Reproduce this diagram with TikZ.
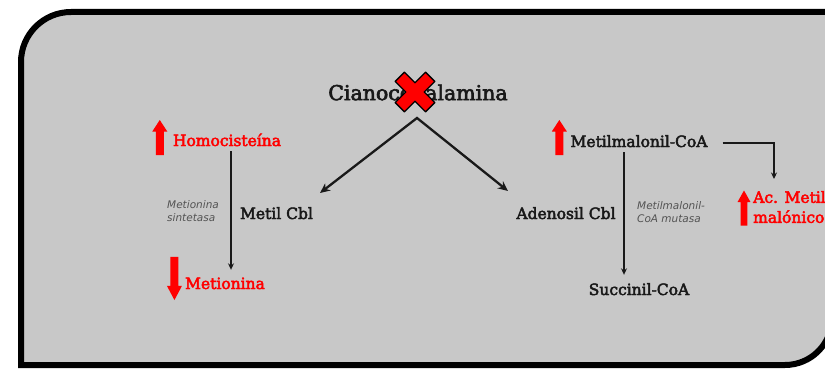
\documentclass[tikz,border=0pt]{standalone}
\usepackage{fontspec}
\setmainfont{DejaVu Serif}
\setsansfont{DejaVu Sans}
\newfontfamily\slab{DejaVu Serif}[FakeBold=3]
\usepackage{tikz}
\usetikzlibrary{positioning,arrows.meta}
\definecolor{panel}{RGB}{200,200,200}
\definecolor{ink}{RGB}{25,25,25}
\tikzset{
  redup/.pic={\fill[red] (-4,-17.5) -- (-4,6) -- (-7.5,6) -- (0,17.5) -- (7.5,6) -- (4,6) -- (4,-17.5) -- cycle;}
}

\begin{document}
\begin{tikzpicture}[x=1pt,y=1pt,on grid,
      metab/.style={font=\fontsize{15.5}{19}\selectfont\slab,text=ink,inner sep=2pt,text height=11pt,text depth=3pt},
      high/.style={metab,text=red},
      enzyme/.style={font=\fontsize{10.5}{13}\selectfont\sffamily\itshape,text=ink!75,align=left,inner sep=0pt,anchor=west},
      big arrow/.style={{Stealth[length=10pt,width=9pt]}-{Stealth[length=10pt,width=9pt]},line width=2.3pt,draw=ink,line join=miter},
      small arrow/.style={-{Stealth[length=6.5pt,width=6pt]},line width=1.4pt,draw=ink},
      xmark/.style={fill=red,draw=black,line width=1.3pt,line join=round}]
      \useasboundingbox (0,0) rectangle (825,-369);
      \draw[line width=6pt,fill=panel] (21,-365) -- (21,-62) arc[start angle=180,end angle=90,radius=50pt]
        -- (832,-12) -- (832,-318) arc[start angle=0,end angle=-90,radius=47pt] -- cycle;

      \node[font=\fontsize{20.5}{24}\selectfont\slab,text=ink,inner sep=2pt] (cyano) at (418,-92.5) {Cianocobalamina};
      \node[metab] (metil) [below left=122.5pt and 141.5pt of cyano] {Metil Cbl};
      \node[metab] (adeno) [below right=122.5pt and 148pt of cyano] {Adenosil Cbl};
      \node[high] (homo) [below left=49.5pt and 191pt of cyano] {Homocisteína};
      \node[high] (meti) [below left=143pt and 2pt of homo] {Metionina};
      \node[metab] (mmcoa) [below right=50.5pt and 221pt of cyano] {Metilmalonil-CoA};
      \node[metab] (succ) [below=148pt of mmcoa] {Succinil-CoA};
      \node[font=\fontsize{15.5}{20}\selectfont\slab,text=red,align=left,inner sep=2pt,anchor=west] (acmet) at (751,-207) {Ac. Metil\\malónico};
      \node[enzyme] (ms) at (167,-211) {Metionina\\sintetasa};
      \node[enzyme] (mcm) at (637,-212) {Metilmalonil-\\CoA mutasa};

      \draw[xmark,shift={(cyano.center)},xshift=-3pt,yshift=.5pt,rotate=45]
        (6.5,6.5) -- (21.5,6.5) -- (21.5,-6.5) -- (6.5,-6.5) -- (6.5,-21.5) -- (-6.5,-21.5) -- (-6.5,-6.5)
        -- (-21.5,-6.5) -- (-21.5,6.5) -- (-6.5,6.5) -- (-6.5,21.5) -- (6.5,21.5) -- cycle;

      \coordinate (fork) at (417,-118);
      \coordinate (tometil) at (320,-193);
      \coordinate (toadeno) at (508,-191);
      \coordinate (acin) at (774,-179);
      \draw[big arrow] (tometil) -- (fork) -- (toadeno);
      \draw[small arrow,shorten >=6pt] ([xshift=4pt]homo.south) -- ([xshift=4pt]homo.south |- meti.north);
      \draw[small arrow,shorten >=7pt] ([xshift=-15pt]mmcoa.south) -- ([xshift=-15pt]mmcoa.south |- succ.north);
      \draw[small arrow] ([xshift=13pt]mmcoa.east) -| (acin);

      \pic at ([xshift=-11pt,yshift=4.5pt]homo.west) {redup};
      \pic[rotate=180,yscale=1.23] at ([xshift=-8.5pt,yshift=6.5pt]meti.west) {redup};
      \pic at ([xshift=-9pt,yshift=5.5pt]mmcoa.west) {redup};
      \pic[xscale=.86] at ([xshift=-7pt,yshift=-1pt]acmet.west) {redup};
\end{tikzpicture}
\end{document}
